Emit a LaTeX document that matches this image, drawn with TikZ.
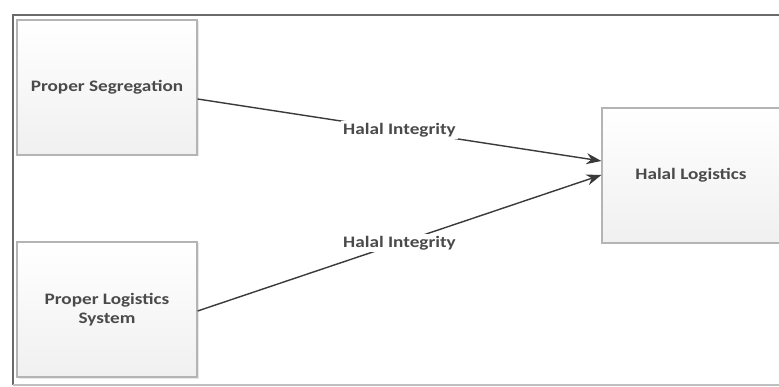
\documentclass[tikz,border=0pt]{standalone}
\usepackage{fontspec}
\setmainfont[FakeStretch=1.2]{Carlito}
\usetikzlibrary{arrows.meta,shadows}
\definecolor{frameC}{HTML}{6A6A6A}
\definecolor{boxline}{HTML}{B4B4B4}
\definecolor{boxfill}{HTML}{F0F0F0}
\definecolor{txt}{HTML}{4A4A4A}
\definecolor{arr}{HTML}{3A3A3A}
\begin{document}
\begin{tikzpicture}[x=1pt,y=-1pt,
  blk/.style={draw=boxline,line width=1.2pt,top color=white,bottom color=boxfill,
    minimum width=180pt,minimum height=135pt,inner sep=0pt,align=center,
    text=txt,font=\bfseries\fontsize{16}{19.5}\selectfont,
    drop shadow={shadow xshift=1.5pt,shadow yshift=-1.5pt,fill=black!15,opacity=0.6}},
  conn/.style={draw=arr,line width=1.4pt,-{Stealth[length=15pt,width=11pt]}},
  lbl/.style={fill=white,text=txt,font=\bfseries\fontsize{16}{19.5}\selectfont,inner sep=2pt}]
\useasboundingbox (0,0) rectangle (779,387);
\fill[white] (0,0) rectangle (779,387);
\draw[frameC,line width=1.3pt] (790,15) -- (13,15) -- (13,385);
\draw[black!25,line width=1.3pt] (13,385) -- (790,385);
\node[blk] (seg) at (107,87.5) {Proper Segregation};
\node[blk] (sys) at (107,309.5) {Proper Logistics\\System};
\node[blk,minimum width=178pt] (hl) at (691,175.5) {Halal Logistics};
\coordinate (s1) at ([yshift=-11.5pt]seg.east);
\coordinate (e1) at ([yshift=14.5pt]hl.west);
\coordinate (s2) at ([yshift=-1.5pt]sys.east);
\coordinate (e2) at ([yshift=0.5pt]hl.west);
\draw[conn] (s1) -- node[lbl,pos=0.5] (l1) {Halal Integrity} (e1);
\draw[conn] (s2) -- node[lbl,pos=0.5] (l2) {Halal Integrity} (e2);
\end{tikzpicture}
\end{document}
